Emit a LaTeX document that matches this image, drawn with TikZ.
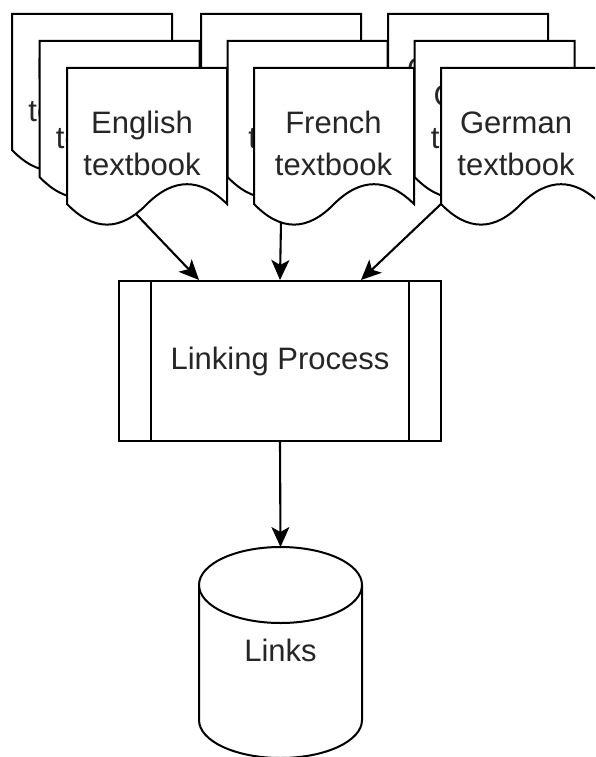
\documentclass[tikz,border=0pt]{standalone}
\usepackage{fontspec}
\setmainfont{Liberation Sans}
\usetikzlibrary{arrows.meta,calc}

\tikzset{
  shapeline/.style={draw=black, fill=white, line width=2pt, line join=miter},
  doctext/.style={align=center, inner sep=0pt, text=black!85,
                  font=\fontsize{31}{42}\selectfont},
  procbox/.style={shapeline, minimum width=322pt, minimum height=160pt,
                  inner sep=0pt, text=black!85, font=\fontsize{31}{42}\selectfont},
  flow/.style={line width=2.1pt, -{Stealth[length=20pt,width=18pt,inset=5pt]}},
}

% document shape with a wavy bottom edge and a centred caption
% #1 name, #2 left, #3 top, #4 caption shift, #5 caption
\newcommand\textdoc[5]{%
  \draw[shapeline] (#2,#3) -- (#2+160,#3) -- (#2+160,#3+136)
    .. controls (#2+133.33,#3+109.6) and (#2+106.67,#3+109.6) .. (#2+80,#3+136)
    .. controls (#2+53.33,#3+163.5) and (#2+26.67,#3+163.5) .. (#2,#3+136) -- cycle;
  \node[doctext] (#1) at (#2+80+#4,#3+75.5) {#5};
}

\begin{document}
\begin{tikzpicture}[x=1pt, y=-1pt]
  \clip (0,0) rectangle (595,757);
  \fill[white] (0,0) rectangle (595,757);

  % back row of the three stacks
  \textdoc{enC}{12}{14}{-5}{English\\textbook}
  \textdoc{frC}{201}{14}{-0.5}{French\\textbook}
  \textdoc{deC}{388}{14}{-5}{German\\textbook}
  % middle row
  \textdoc{enB}{39.5}{41}{-5}{English\\textbook}
  \textdoc{frB}{227.5}{41}{-0.5}{French\\textbook}
  \textdoc{deB}{414.5}{41}{-5}{German\\textbook}
  % front row
  \textdoc{enA}{67}{68}{-5}{English\\textbook}
  \textdoc{frA}{254}{68}{-0.5}{French\\textbook}
  \textdoc{deA}{441}{68}{-5}{German\\textbook}

  % linking process (box with two side bars)
  \node[procbox] (proc) at (280,361) {Linking Process};
  \draw[line width=2pt] ($(proc.north west)+(33,0)$) -- ($(proc.south west)+(33,0)$);
  \draw[line width=2pt] ($(proc.north east)+(-33,0)$) -- ($(proc.south east)+(-33,0)$);

  % links store (cylinder)
  \draw[shapeline] (199,585) -- (199,720)
    arc[start angle=180, end angle=0, x radius=81.5, y radius=38] -- (362,585);
  \draw[shapeline] (280.5,585) ellipse [x radius=81.5, y radius=38];
  \node[doctext] (links) at (280.5,650) {Links};
  \coordinate (linkstop) at (280.5,547);

  % connectors
  \coordinate (enout) at (136,214);
  \coordinate (frout) at (281,222);
  \coordinate (deout) at (441,204);
  \coordinate (in1) at ($(proc.north west)!0.25!(proc.north east)$);
  \coordinate (in2) at (proc.north);
  \coordinate (in3) at ($(proc.north west)!0.75!(proc.north east)$);
  \draw[flow] (enout) -- (in1);
  \draw[flow] (frout) -- (in2);
  \draw[flow] (deout) -- (in3);
  \draw[flow] (proc.south) -- (linkstop);
\end{tikzpicture}
\end{document}
